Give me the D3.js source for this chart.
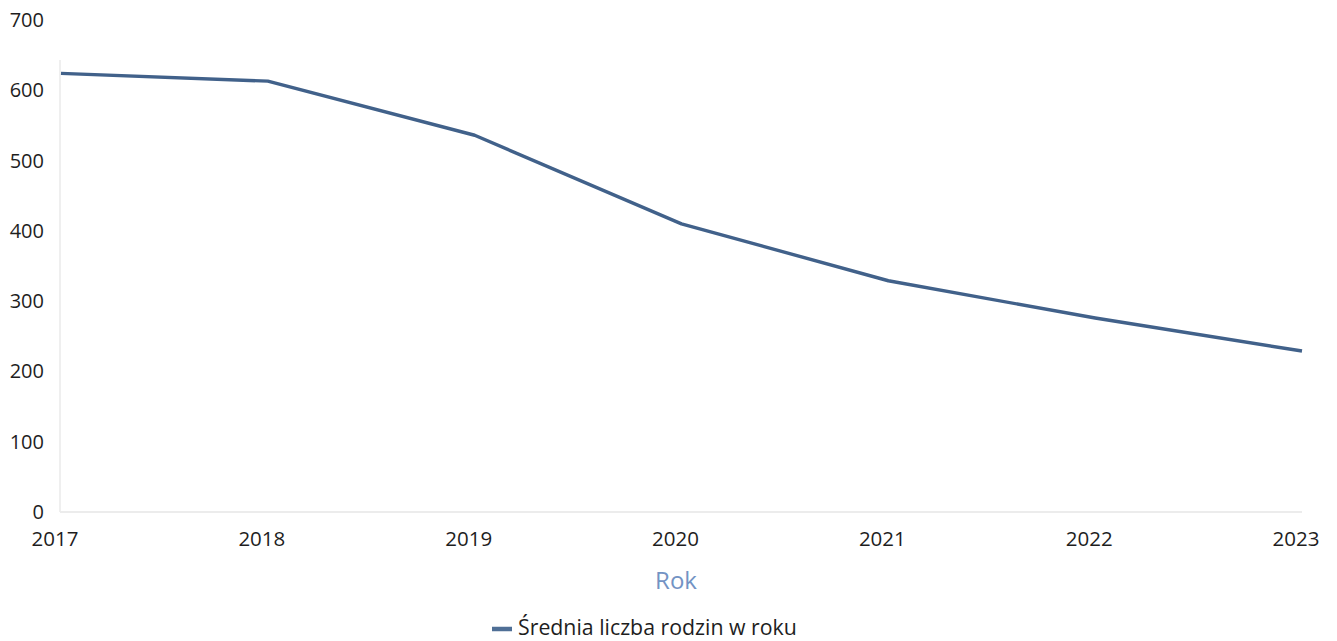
<!DOCTYPE html>
<html><head><meta charset="utf-8">
<script src="https://cdn.jsdelivr.net/npm/d3@7"></script>
<style>body{margin:0;background:#fff;} text{font-family:"Open Sans","Noto Sans",sans-serif;}</style>
</head><body>
<svg id="c" width="1337" height="641"></svg>
<script>
const years = ["2017","2018","2019","2020","2021","2022","2023"];
const values = [624, 613, 536, 410, 329, 276, 229];
const yTicks = [0,100,200,300,400,500,600,700];
const seriesName = "Średnia liczba rodzin w roku";
const xTitle = "Rok";

const svg = d3.select("#c");
const x = d3.scalePoint().domain(years).range([61, 1302]);
const y = d3.scaleLinear().domain([0,700]).range([512, 20]);

// faint y axis line
svg.append("line").attr("x1",60).attr("x2",60).attr("y1",y(700)+40).attr("y2",y(0))
  .attr("stroke","#efefef").attr("stroke-width",2);
// baseline
svg.append("line").attr("x1",60).attr("x2",1302).attr("y1",y(0)).attr("y2",y(0))
  .attr("stroke","#ececec").attr("stroke-width",2);

// y tick labels
svg.append("g").selectAll("text").data(yTicks).join("text")
  .attr("x",44).attr("y",d=>y(d)).attr("dy","0.35em").attr("text-anchor","end")
  .attr("font-size",20).attr("fill","#1e1e1e").text(d=>d);

// x tick labels
svg.append("g").selectAll("text").data(years).join("text")
  .attr("x",d=>x(d)-6).attr("y",539).attr("dy","0.35em").attr("text-anchor","middle")
  .attr("font-size",20.5).attr("fill","#1e1e1e").text(d=>d);

// x title
svg.append("text").attr("x",676).attr("y",581).attr("dy","0.35em").attr("text-anchor","middle")
  .attr("font-size",24).attr("fill","#7393c4").text(xTitle);

// line
const line = d3.line().x((d,i)=>x(years[i])).y(d=>y(d));
svg.append("path").datum(values).attr("d",line).attr("fill","none")
  .attr("stroke","#41618a").attr("stroke-width",3.4).attr("stroke-linejoin","round");

// legend
svg.append("line").attr("x1",492).attr("x2",512).attr("y1",629).attr("y2",629)
  .attr("stroke","#4f6f96").attr("stroke-width",4.5);
svg.append("text").attr("x",518).attr("y",628).attr("dy","0.35em")
  .attr("font-size",21.3).attr("fill","#1e1e1e").text(seriesName);
</script>
</body></html>
